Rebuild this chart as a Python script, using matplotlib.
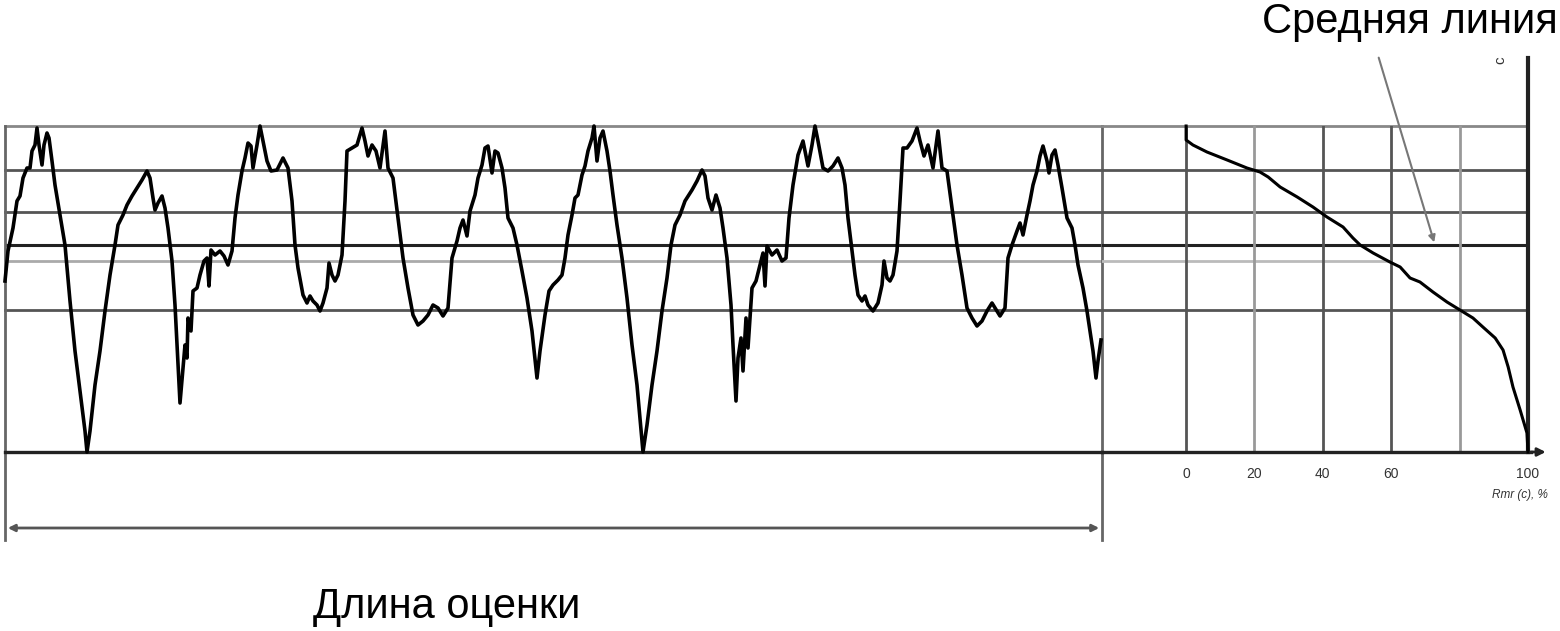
import matplotlib.pyplot as plt

# Профиль шероховатости и кривая опорной длины (Rmr)
plt.rcParams['font.family'] = ['Liberation Sans', 'DejaVu Sans']

# профиль: положение вдоль длины оценки и высота (условные единицы)
profile_x = [0, 3, 8, 12, 15, 18, 22, 25, 27, 30, 32, 34, 37, 39, 42, 44, 47, 50, 55, 60,
             65, 70, 75, 80, 82, 85, 90, 95, 100, 105, 110, 113, 118, 122, 127, 132, 137, 142, 145, 148,
             150, 153, 157, 160, 163, 167, 170, 173, 175, 178, 180, 182, 183, 186, 188, 192, 195, 199, 202, 204,
             206, 210, 215, 219, 223, 227, 230, 233, 237, 240, 243, 246, 248, 252, 255, 258, 262, 266, 272, 278,
             283, 287, 290, 293, 298, 302, 305, 308, 312, 315, 318, 322, 324, 327, 330, 333, 337, 340, 342, 347,
             352, 357, 360, 363, 367, 371, 375, 380, 383, 388, 393, 398, 403, 408, 413, 418, 423, 428, 433, 438,
             443, 447, 452, 455, 458, 462, 465, 470, 473, 477, 480, 483, 487, 490, 493, 497, 500, 503, 508, 512,
             517, 522, 527, 532, 535, 540, 544, 548, 553, 557, 560, 563, 567, 570, 573, 577, 580, 583, 587, 589,
             592, 595, 598, 602, 605, 608, 612, 617, 622, 627, 632, 635, 638, 642, 647, 652, 657, 662, 666, 670,
             675, 680, 687, 692, 697, 700, 703, 707, 711, 715, 718, 722, 726, 728, 731, 733, 736, 738, 741, 743,
             747, 751, 755, 758, 760, 762, 767, 772, 777, 781, 784, 788, 793, 798, 803, 807, 810, 813, 818, 823,
             828, 833, 837, 840, 843, 847, 850, 853, 857, 860, 863, 868, 873, 877, 879, 882, 885, 888, 892, 895,
             898, 902, 907, 912, 915, 919, 923, 928, 933, 937, 942, 947, 952, 957, 962, 967, 972, 977, 982, 987,
             992, 995, 1000, 1003, 1007, 1012, 1015, 1018, 1022, 1025, 1028, 1032, 1035, 1038, 1042, 1044, 1047, 1050, 1053, 1057,
             1062, 1067, 1070, 1073, 1078, 1082, 1085, 1088, 1091, 1093, 1096]
profile_z = [171, 201, 224, 251, 256, 274, 284, 284, 301, 307, 324, 307, 287, 307, 319, 314, 291, 267, 237, 207,
             151, 101, 61, 21, 0, 21, 67, 101, 141, 177, 207, 227, 237, 247, 256, 264, 272, 281, 274, 254,
             242, 249, 256, 244, 224, 191, 147, 87, 49, 84, 107, 94, 134, 121, 161, 164, 177, 191, 194, 166,
             202, 197, 201, 196, 187, 201, 234, 257, 281, 294, 309, 306, 284, 307, 326, 311, 291, 281, 282, 294,
             284, 251, 207, 184, 157, 149, 156, 151, 147, 141, 149, 164, 189, 177, 171, 177, 197, 251, 301, 304,
             307, 324, 311, 296, 307, 301, 284, 321, 284, 274, 234, 194, 164, 137, 127, 131, 137, 147, 144, 136,
             144, 194, 211, 224, 232, 216, 241, 257, 274, 287, 304, 306, 279, 301, 299, 284, 264, 234, 224, 207,
             181, 154, 121, 74, 101, 137, 161, 167, 172, 177, 194, 217, 237, 254, 257, 277, 286, 301, 314, 326,
             291, 314, 321, 301, 281, 257, 227, 194, 154, 107, 67, 34, 0, 27, 67, 101, 141, 174, 207, 227,
             237, 251, 262, 271, 282, 276, 254, 242, 257, 244, 224, 194, 147, 107, 51, 94, 114, 81, 134, 104,
             164, 171, 187, 199, 166, 206, 197, 202, 191, 194, 234, 267, 297, 311, 286, 307, 326, 311, 284, 281,
             286, 294, 284, 267, 234, 201, 177, 157, 151, 156, 147, 141, 149, 167, 191, 174, 171, 177, 201, 251,
             304, 304, 311, 324, 311, 296, 307, 284, 321, 284, 281, 244, 207, 177, 144, 134, 126, 131, 141, 149,
             141, 136, 144, 194, 207, 221, 229, 217, 237, 251, 267, 281, 296, 306, 291, 279, 297, 302, 287, 264,
             234, 224, 207, 187, 164, 141, 121, 101, 74, 91, 112]

# кривая опорной длины профиля Rmr(c), %
rmr_pct = [0, 0, 2.0, 6.1, 12.0, 17.8, 21.6, 24.0, 27.5, 32.5, 37.1, 41.2, 45.9, 48.8, 50.9, 54.7,
           59.6, 62.6, 65.5, 68.4, 72.2, 76.3, 80.1, 83.9, 86.8, 90.4, 92.7, 94.2, 95.6, 97.7, 99.7, 100]
rmr_z = [326, 312, 307, 300, 292, 284, 280, 275, 265, 255, 245, 235, 225, 214, 207, 199,
         190, 185, 174, 170, 160, 150, 142, 134, 125, 114, 102, 85, 65, 42, 19, 0]

# уровни сечения (горизонтальные линии), средняя линия отдельно
level_z = [326, 282, 240, 142]
mean_z = 207
light_z = 191
rmr_grid = [0, 20, 40, 60, 80, 100]
rmr_ticks = [0, 20, 40, 60, 100]

L = 1097
Z_TOP = 326
RMR_LEFT = -24.6

fig = plt.figure(figsize=(15.6, 6.31), dpi=100)
ax_p = fig.add_axes([5 / 1560, 1 - 452 / 631, 1097 / 1560, 326 / 631])
ax_m = fig.add_axes([1102 / 1560, 1 - 452 / 631, 426 / 1560, 326 / 631])

for ax in (ax_p, ax_m):
    ax.set_ylim(0, Z_TOP)
    for s in ax.spines.values():
        s.set_visible(False)
    ax.set_yticks([])
    ax.patch.set_alpha(0)
ax_p.set_xlim(0, L)
ax_m.set_xlim(RMR_LEFT, 100)
ax_p.set_xticks([])

# сетка уровней
for z in level_z:
    c = '#888888' if z == Z_TOP else '#555555'
    ax_p.axhline(z, color=c, lw=2, zorder=1, clip_on=False)
    ax_m.axhline(z, color=c, lw=2, zorder=1, clip_on=False)
ax_p.axhline(mean_z, color='#222222', lw=2.2, zorder=1)
ax_m.axhline(mean_z, color='#222222', lw=2.2, zorder=1)
ax_p.axhline(light_z, color='#aaaaaa', lw=2, zorder=1)
ax_m.plot([RMR_LEFT, 60], [light_z, light_z], color='#bbbbbb', lw=2, zorder=1)

for r in rmr_grid[:-1]:
    c = '#999999' if r in (20, 80) else '#555555'
    ax_m.axvline(r, color=c, lw=2, zorder=1)

# границы длины оценки с выносными линиями
for x in (0, L):
    ax_p.plot([x, x], [Z_TOP, -88], color='#666666', lw=2, clip_on=False, zorder=1)

# профиль
ax_p.plot(profile_x, profile_z, color='black', lw=2.6, zorder=3, clip_on=False)

# кривая Rmr
ax_m.plot(rmr_pct, rmr_z, color='black', lw=2.2, zorder=3, clip_on=False)

# оси: нижняя линия и правая вертикаль
ax_p.axhline(0, color='#222222', lw=2.4, zorder=2, clip_on=False)
ax_m.plot([RMR_LEFT, 101], [0, 0], color='#222222', lw=2.4, clip_on=False, zorder=2)
ax_m.annotate('', xy=(106, 0), xytext=(100, 0),
              arrowprops=dict(arrowstyle='-|>', color='#222222', lw=2, mutation_scale=12),
              annotation_clip=False)
ax_m.plot([100, 100], [0, 394], color='#222222', lw=3, clip_on=False, zorder=2)
fig.text(1500 / 1560, 1 - 60 / 631, 'c', rotation=90, fontsize=11, ha='center', va='center',
         color='#333333')

# подписи шкалы Rmr
ax_m.set_xticks(rmr_ticks)
ax_m.set_xticklabels([str(t) for t in rmr_ticks])
ax_m.tick_params(axis='x', length=0, pad=11, labelsize=10, labelcolor='#333333')
fig.text(1548 / 1560, 1 - 495 / 631, 'Rmr (c), %', style='italic', fontsize=8.5,
         ha='right', va='center', color='#333333')

# размерная линия длины оценки
ax_p.annotate('', xy=(0, -76), xytext=(L, -76),
              arrowprops=dict(arrowstyle='<|-|>', color='#555555', lw=2, mutation_scale=10),
              annotation_clip=False)

# выноска средней линии
ax_m.annotate('', xy=(72.8, mean_z), xytext=(56.1, 397),
              arrowprops=dict(arrowstyle='-|>', color='#777777', lw=1.5, mutation_scale=10),
              annotation_clip=False)

fig.text(1410 / 1560, 1 - 22 / 631, 'Средняя линия', fontsize=30, ha='center', va='center')
fig.text(447 / 1560, 1 - 607 / 631, 'Длина оценки', fontsize=30, ha='center', va='center')

fig.savefig('out.png', dpi=100, facecolor='white')
